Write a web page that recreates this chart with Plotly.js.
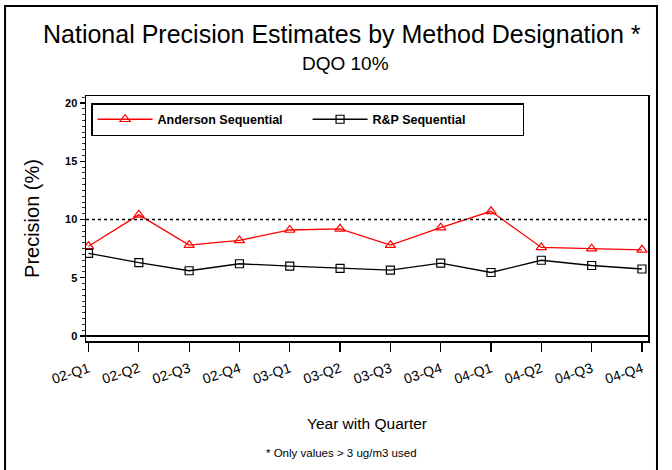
<!DOCTYPE html>
<html>
<head>
<meta charset="utf-8">
<script src="https://cdn.plot.ly/plotly-3.0.1.min.js"></script>
<style>html,body{margin:0;padding:0;background:#fff;}#chart{width:672px;height:470px;}</style>
</head>
<body>
<div id="chart"></div>
<script>
const quarters = ["02-Q1","02-Q2","02-Q3","02-Q4","03-Q1","03-Q2","03-Q3","03-Q4","04-Q1","04-Q2","04-Q3","04-Q4"];
const anderson = [7.7, 10.4, 7.8, 8.2, 9.1, 9.2, 7.8, 9.3, 10.7, 7.6, 7.5, 7.4];
const rpSeq    = [7.1, 6.3, 5.6, 6.2, 6.0, 5.8, 5.65, 6.25, 5.45, 6.5, 6.05, 5.75];
const dqo = 10;
const yTicks = [0, 5, 10, 15, 20];

const idx = quarters.map((q, i) => i);

const traces = [
  {
    x: idx, y: anderson, name: "Anderson Sequential", type: "scatter", mode: "lines+markers",
    line: {color: "#ff0000", width: 1.3},
    marker: {symbol: "triangle-up-open", size: 9, color: "#ff0000", line: {width: 1.2}}
  },
  {
    x: idx, y: rpSeq, name: "R&P Sequential", type: "scatter", mode: "lines+markers",
    line: {color: "#000000", width: 1.3},
    marker: {symbol: "square-open", size: 8, color: "#000000", line: {width: 1.2}}
  }
];

const layout = {
  width: 672, height: 470,
  margin: {l: 86, r: 24, t: 96, b: 129},
  paper_bgcolor: "#ffffff", plot_bgcolor: "#ffffff",
  font: {family: "Liberation Sans, Arial, sans-serif", color: "#000"},
  showlegend: true,
  legend: {
    orientation: "h", x: 0.009, y: 0.971, xanchor: "left", yanchor: "top",
    bordercolor: "#000", borderwidth: 1.5, bgcolor: "#fff",
    font: {size: 12.5, color: "#000", family: "Liberation Sans, Arial, sans-serif", weight: "bold"},
    itemwidth: 55, entrywidth: 145, entrywidthmode: "pixels"
  },
  xaxis: {
    range: [-0.05, 11.12], tickmode: "array", tickvals: idx, ticktext: quarters,
    tickangle: -18, ticks: "outside", ticklen: 9, tickwidth: 1.2, tickcolor: "#000",
    ticklabelstandoff: 4,
    showgrid: false, zeroline: false, showline: true, linecolor: "#000", linewidth: 1.5, mirror: true,
    tickfont: {size: 14, color: "#000"},
    title: {text: "Year with Quarter", font: {size: 15.5, color: "#000"}, standoff: 32}
  },
  yaxis: {
    range: [-0.43, 20.6], tickmode: "array", tickvals: yTicks,
    ticks: "outside", ticklen: 5, tickwidth: 1.2, tickcolor: "#000",
    minor: {dtick: 0.5, ticks: "outside", ticklen: 3, tickcolor: "#000", tickwidth: 0.8},
    showgrid: false, zeroline: true, zerolinecolor: "#000", zerolinewidth: 1.2,
    showline: true, linecolor: "#000", linewidth: 1.5, mirror: true,
    tickfont: {size: 11, color: "#000", weight: "bold"},
    title: {text: "Precision (%)", font: {size: 20, color: "#000"}, standoff: 20}
  },
  shapes: [
    {type: "line", xref: "paper", x0: 0, x1: 1, yref: "y", y0: dqo, y1: dqo,
     line: {color: "#000", width: 1.3, dash: "dot"}},
    {type: "rect", xref: "paper", yref: "paper", x0: -0.144, x1: 1.016, y0: -0.6, y1: 1.367,
     line: {color: "#000", width: 2}, fillcolor: "rgba(0,0,0,0)"}
  ],
  annotations: [
    {text: "National Precision Estimates by Method Designation *", xref: "paper", yref: "paper",
     x: 0.456, y: 1.255, showarrow: false, font: {size: 25, color: "#000"}, xanchor: "center", yanchor: "middle"},
    {text: "DQO 10%", xref: "paper", yref: "paper",
     x: 0.461, y: 1.131, showarrow: false, font: {size: 19, color: "#000"}, xanchor: "center", yanchor: "middle"},
    {text: "* Only values > 3 ug/m3 used", xref: "paper", yref: "paper", x: 0.454, y: -0.457,
     showarrow: false, font: {size: 11.5, color: "#000"}, xanchor: "center", yanchor: "middle"}
  ]
};

Plotly.newPlot("chart", traces, layout, {displayModeBar: false, staticPlot: true});
</script>
</body>
</html>
